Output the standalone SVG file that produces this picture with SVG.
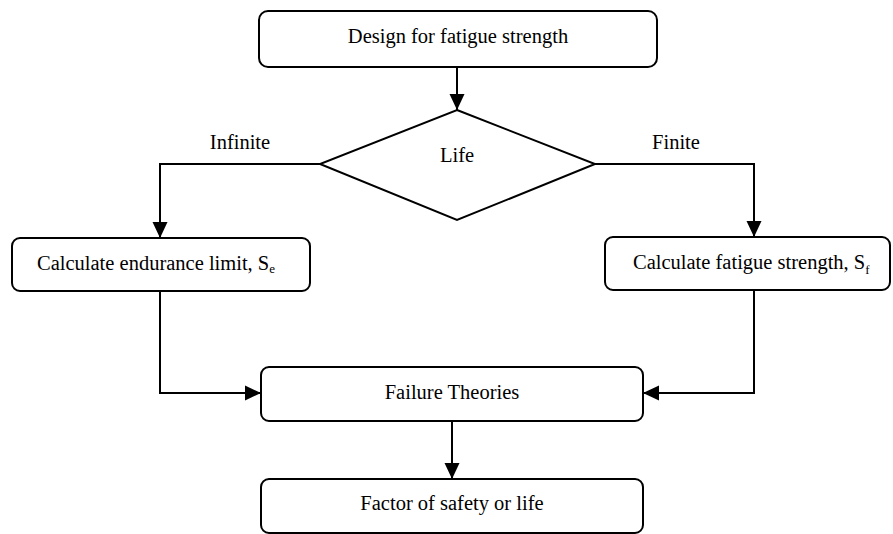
<svg xmlns="http://www.w3.org/2000/svg" width="893" height="534" viewBox="0 0 893 534">
  <defs>
    <marker id="arrow" markerUnits="userSpaceOnUse" markerWidth="16" markerHeight="16" viewBox="0 0 16 16" refX="16" refY="8" orient="auto">
      <path d="M0,0.5 L16,8 L0,15.5 Z" fill="#000"/>
    </marker>
  </defs>
  <style>
    .box { fill: #fff; stroke: #000; stroke-width: 2; }
    .lbl { font-family: 'Liberation Serif', Tinos, 'DejaVu Serif', serif; font-size: 20.5px; fill: #000; }
    .sub { font-size: 13px; }
    .edge { fill: none; stroke: #000; stroke-width: 2; }
  </style>
  <rect width="893" height="534" fill="#fff"/>

  <g id="connectors">
    <path class="edge" d="M457,67 L457,110" marker-end="url(#arrow)"/>
    <path class="edge" d="M320,164 L160,164 L160,238" marker-end="url(#arrow)"/>
    <path class="edge" d="M595,164 L754,164 L754,237" marker-end="url(#arrow)"/>
    <path class="edge" d="M160,291 L160,393 L261,393" marker-end="url(#arrow)"/>
    <path class="edge" d="M754,290 L754,393 L643,393" marker-end="url(#arrow)"/>
    <path class="edge" d="M452,421 L452,479" marker-end="url(#arrow)"/>
  </g>

  <g id="edge-labels" font-family="Liberation Serif, serif">
    <text class="lbl" x="240" y="149" text-anchor="middle">Infinite</text>
    <text class="lbl" x="676" y="149" text-anchor="middle">Finite</text>
  </g>

  <g id="design">
    <rect class="box" x="259" y="11" width="398" height="56" rx="9"/>
    <text class="lbl" x="458" y="43" text-anchor="middle">Design for fatigue strength</text>
  </g>

  <g id="life">
    <polygon class="box" points="457,110 595,164 457,220 320,164"/>
    <text class="lbl" x="457" y="162" text-anchor="middle">Life</text>
  </g>

  <g id="endurance">
    <rect class="box" x="12" y="238" width="298" height="53" rx="8"/>
    <text class="lbl" x="37" y="270">Calculate endurance limit, S<tspan class="sub" dy="3">e</tspan></text>
  </g>

  <g id="fatigue-strength">
    <rect class="box" x="605" y="237" width="285" height="53" rx="8"/>
    <text class="lbl" x="633" y="269">Calculate fatigue strength, S<tspan class="sub" dy="5">f</tspan></text>
  </g>

  <g id="failure">
    <rect class="box" x="261" y="367" width="382" height="54" rx="8"/>
    <text class="lbl" x="452" y="399" text-anchor="middle">Failure Theories</text>
  </g>

  <g id="safety">
    <rect class="box" x="261" y="479" width="382" height="54" rx="8"/>
    <text class="lbl" x="452" y="510" text-anchor="middle">Factor of safety or life</text>
  </g>
</svg>
